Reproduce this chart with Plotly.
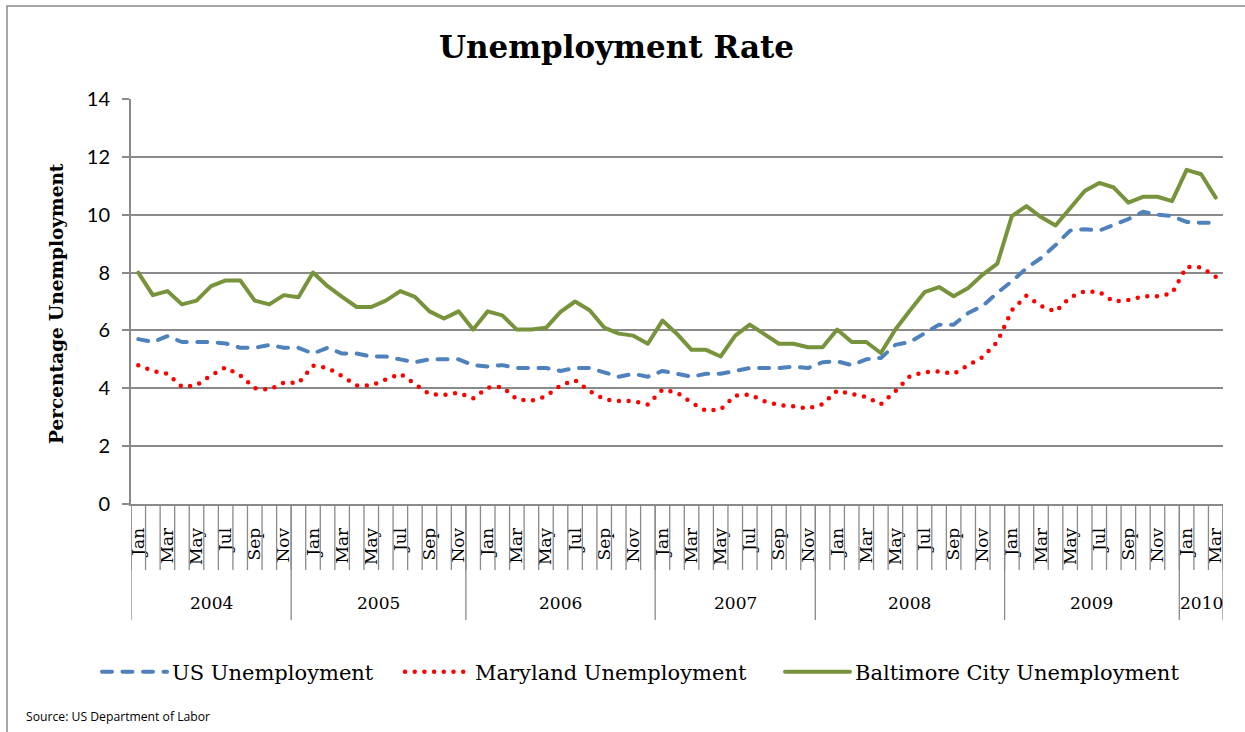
import plotly.graph_objects as go

# Category axis: monthly, Jan 2004 .. Mar 2010
month_abbr = ["Jan", "Feb", "Mar", "Apr", "May", "Jun",
              "Jul", "Aug", "Sep", "Oct", "Nov", "Dec"]
years = [2004, 2005, 2006, 2007, 2008, 2009, 2010]
n_months = 75

# Year group labels and the category index where each group begins (last = axis end)
year_labels = ["2004", "2005", "2006", "2007", "2008", "2009", "2010"]
year_bounds = [0, 11, 23, 36, 47, 60, 72, 75]

us_rate = [
    5.7, 5.6, 5.8, 5.6, 5.6, 5.6, 5.55, 5.4, 5.4, 5.5, 5.4, 5.4,
    5.2, 5.4, 5.2, 5.2, 5.1, 5.1, 5.0, 4.9, 5.0, 5.0, 5.0, 4.8,
    4.75, 4.8, 4.7, 4.7, 4.7, 4.6, 4.7, 4.7, 4.55, 4.4, 4.5, 4.4,
    4.6, 4.5, 4.4, 4.5, 4.5, 4.6, 4.7, 4.7, 4.7, 4.75, 4.7, 4.9,
    4.93, 4.8, 5.0, 5.05, 5.5, 5.6, 5.9, 6.2, 6.2, 6.6, 6.85, 7.3,
    7.7, 8.15, 8.5, 8.95, 9.45, 9.5, 9.45, 9.65, 9.85, 10.1, 10.0, 9.95,
    9.75, 9.72, 9.72,
]

maryland_rate = [
    4.8, 4.6, 4.5, 4.05, 4.1, 4.45, 4.72, 4.45, 4.0, 3.95, 4.2, 4.18,
    4.78, 4.7, 4.42, 4.1, 4.1, 4.3, 4.5, 4.15, 3.8, 3.77, 3.85, 3.65,
    4.02, 4.05, 3.62, 3.57, 3.72, 4.1, 4.28, 3.9, 3.62, 3.56, 3.56, 3.44,
    3.95, 3.85, 3.5, 3.22, 3.27, 3.75, 3.78, 3.55, 3.42, 3.38, 3.3, 3.45,
    3.92, 3.8, 3.7, 3.45, 3.9, 4.42, 4.56, 4.58, 4.5, 4.8, 5.08, 5.6,
    6.7, 7.2, 6.85, 6.65, 7.15, 7.35, 7.33, 7.0, 7.05, 7.18, 7.18, 7.28,
    8.2, 8.18, 7.85,
]

baltimore_rate = [
    8.0, 7.22, 7.36, 6.9, 7.03, 7.53, 7.73, 7.73, 7.03, 6.9, 7.22, 7.15,
    8.0, 7.53, 7.16, 6.81, 6.81, 7.03, 7.36, 7.16, 6.66, 6.41, 6.66, 6.03,
    6.66, 6.52, 6.03, 6.03, 6.09, 6.64, 7.0, 6.7, 6.1, 5.89, 5.82, 5.54,
    6.34, 5.88, 5.33, 5.33, 5.1, 5.82, 6.2, 5.85, 5.54, 5.54, 5.42, 5.42,
    6.03, 5.6, 5.6, 5.22, 6.03, 6.69, 7.32, 7.5, 7.18, 7.47, 7.93, 8.31,
    9.95, 10.3, 9.92, 9.63, 10.24, 10.82, 11.1, 10.94, 10.42, 10.62, 10.62, 10.47,
    11.55, 11.4, 10.59,
]

y_ticks = [0, 2, 4, 6, 8, 10, 12, 14]

month_labels = [m for _ in years for m in month_abbr][:n_months]
x_idx = list(range(n_months))

# Page geometry (pixels)
W, H = 1245, 732
PLOT_L, PLOT_R, PLOT_T, PLOT_B = 131, 1223, 99, 504


def fx(px):
    return (px - PLOT_L) / (PLOT_R - PLOT_L)


def fy(py):
    return (PLOT_B - py) / (PLOT_B - PLOT_T)


GRAY = "#8a8a8a"
SERIF = "DejaVu Serif"

fig = go.Figure()
fig.add_trace(go.Scatter(
    x=x_idx, y=us_rate, mode="lines", name="US Unemployment", legend="legend",
    line=dict(color="#4F81BD", width=4, dash="10px,10.5px"),
))
fig.add_trace(go.Scatter(
    x=x_idx, y=maryland_rate, mode="lines", name="Maryland Unemployment",
    legend="legend2",
    line=dict(color="#FF0000", width=4.5, dash="0px,9.7px"),
))
fig.add_trace(go.Scatter(
    x=x_idx, y=baltimore_rate, mode="lines", name="Baltimore City Unemployment",
    legend="legend3",
    line=dict(color="#77933C", width=4),
))

shapes = []
# month separators below the axis
for k in range(n_months + 1):
    shapes.append(dict(type="line", xref="x", yref="paper",
                       x0=k - 0.5, x1=k - 0.5, y0=0, y1=fy(570),
                       line=dict(color=GRAY, width=1.3)))
# year group separators
for b in year_bounds:
    shapes.append(dict(type="line", xref="x", yref="paper",
                       x0=b - 0.5, x1=b - 0.5, y0=0, y1=fy(620),
                       line=dict(color=GRAY, width=1.3)))
# chart frame
shapes.append(dict(type="rect", xref="paper", yref="paper",
                   x0=fx(7), x1=fx(1270), y0=fy(6), y1=fy(760),
                   line=dict(color=GRAY, width=1.5), layer="below"))

annotations = [
    dict(text="<b>Unemployment Rate</b>", xref="paper", yref="paper",
         x=fx(616), y=fy(47), xanchor="center", yanchor="middle",
         showarrow=False, font=dict(family=SERIF, size=31, color="black")),
    dict(text="<b>Percentage Unemployment</b>", xref="paper", yref="paper",
         x=fx(56), y=fy(304), xanchor="center", yanchor="middle", textangle=-90,
         showarrow=False, font=dict(family=SERIF, size=18.5, color="black")),
    dict(text="Source: US Department of Labor", xref="paper", yref="paper",
         x=fx(24), y=fy(716), xanchor="left", yanchor="middle",
         showarrow=False, font=dict(family="Open Sans", size=12.2, color="black")),
]
for lab, b0, b1 in zip(year_labels, year_bounds[:-1], year_bounds[1:]):
    annotations.append(dict(text=lab, xref="x", yref="paper",
                            x=(b0 + b1) / 2 - 0.5, y=fy(603),
                            xanchor="center", yanchor="middle", showarrow=False,
                            font=dict(family=SERIF, size=17, color="black")))


def legend_box(left_px):
    return dict(orientation="h", x=fx(left_px), xanchor="left",
                y=fy(672), yanchor="middle", itemwidth=65,
                font=dict(family=SERIF, size=21, color="black"),
                bgcolor="rgba(0,0,0,0)")


fig.update_layout(
    width=W, height=H, autosize=False,
    margin=dict(l=PLOT_L, r=W - PLOT_R, t=PLOT_T, b=H - PLOT_B, pad=0),
    paper_bgcolor="white", plot_bgcolor="white",
    shapes=shapes, annotations=annotations,
    showlegend=True,
    legend=legend_box(97),
    legend2=legend_box(400),
    legend3=legend_box(780),
    xaxis=dict(range=[-0.5, n_months - 0.5],
               tickmode="array", tickvals=x_idx[::2], ticktext=month_labels[::2],
               tickangle=-90, ticks="", ticklabelstandoff=15,
               tickfont=dict(family=SERIF, size=17, color="black"),
               showgrid=False, zeroline=False,
               showline=True, linecolor=GRAY, linewidth=2),
    yaxis=dict(range=[0, 14], tickmode="array", tickvals=y_ticks,
               ticks="outside", ticklen=7, tickcolor=GRAY, tickwidth=1.5,
               ticklabelstandoff=8,
               tickfont=dict(family="Lato", size=20, color="black"),
               showgrid=True, gridcolor=GRAY, gridwidth=1.5,
               zeroline=False, showline=True, linecolor=GRAY, linewidth=2),
)

round_caps = """
var gd = document.getElementById('{plot_id}');
gd.querySelectorAll('path.js-line').forEach(function (p) {
  p.style.strokeLinecap = 'round';
  p.style.strokeLinejoin = 'round';
});
"""

fig.write_html("out.html", post_script=round_caps)
